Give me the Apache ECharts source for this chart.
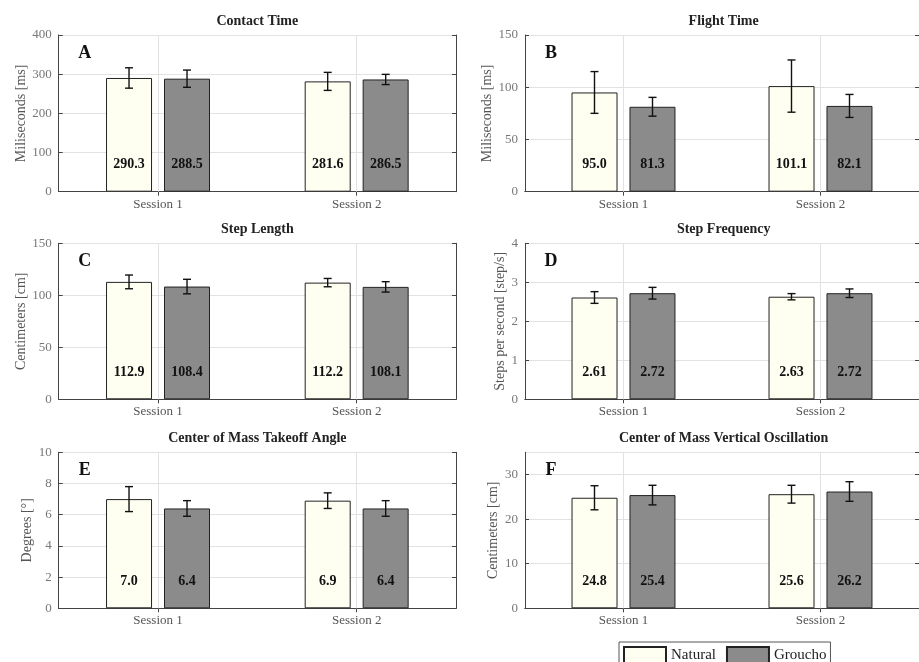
<!DOCTYPE html>
<html>
<head>
<meta charset="utf-8">
<script src="https://cdn.jsdelivr.net/npm/echarts@6/dist/echarts.min.js"></script>
<style>html,body{margin:0;padding:0;background:#fff;}#c{width:919px;height:662px;}</style>
</head>
<body>
<div id="c"></div>
<script>
// ---- data ----
const categories = ['Session 1', 'Session 2'];
const seriesNames = ['Natural', 'Groucho'];

const panelTitles = ['Contact Time', 'Flight Time', 'Step Length', 'Step Frequency', 'Center of Mass Takeoff Angle', 'Center of Mass Vertical Oscillation'];
const panelLetters = ['A', 'B', 'C', 'D', 'E', 'F'];
const yAxisNames = ['Miliseconds [ms]', 'Miliseconds [ms]', 'Centimeters [cm]', 'Steps per second [step/s]', 'Degrees [°]', 'Centimeters [cm]'];
const yMax = [400, 150, 150, 4, 10, 35];
const yInterval = [100, 50, 50, 1, 2, 10];

const contactNatural = [290.3, 281.6];
const contactGroucho = [288.5, 286.5];
const contactNaturalSD = [26, 23];
const contactGrouchoSD = [22, 13];

const flightNatural = [95.0, 101.1];
const flightGroucho = [81.3, 82.1];
const flightNaturalSD = [20, 25];
const flightGrouchoSD = [9, 11];

const stepLengthNatural = [112.9, 112.2];
const stepLengthGroucho = [108.4, 108.1];
const stepLengthNaturalSD = [6.6, 4];
const stepLengthGrouchoSD = [7, 5];

const stepFreqNatural = [2.61, 2.63];
const stepFreqGroucho = [2.72, 2.72];
const stepFreqNaturalSD = [0.15, 0.08];
const stepFreqGrouchoSD = [0.15, 0.11];

const angleNatural = [7.0, 6.9];
const angleGroucho = [6.4, 6.4];
const angleNaturalSD = [0.8, 0.5];
const angleGrouchoSD = [0.5, 0.5];

const oscNatural = [24.8, 25.6];
const oscGroucho = [25.4, 26.2];
const oscNaturalSD = [2.7, 2.0];
const oscGrouchoSD = [2.2, 2.2];

const valueLabels = [
  [['290.3', '281.6'], ['288.5', '286.5']],
  [['95.0', '101.1'], ['81.3', '82.1']],
  [['112.9', '112.2'], ['108.4', '108.1']],
  [['2.61', '2.63'], ['2.72', '2.72']],
  [['7.0', '6.9'], ['6.4', '6.4']],
  [['24.8', '25.6'], ['25.4', '26.2']]
];

const means = [
  [contactNatural, contactGroucho],
  [flightNatural, flightGroucho],
  [stepLengthNatural, stepLengthGroucho],
  [stepFreqNatural, stepFreqGroucho],
  [angleNatural, angleGroucho],
  [oscNatural, oscGroucho]
];
const sds = [
  [contactNaturalSD, contactGrouchoSD],
  [flightNaturalSD, flightGrouchoSD],
  [stepLengthNaturalSD, stepLengthGrouchoSD],
  [stepFreqNaturalSD, stepFreqGrouchoSD],
  [angleNaturalSD, angleGrouchoSD],
  [oscNaturalSD, oscGrouchoSD]
];

// ---- layout / style ----
const FONT = 'Liberation Serif';
const gridPos = [
  {left: 58.7, top: 35, width: 397.3, height: 156.7},
  {left: 525, top: 35, width: 397.3, height: 156.7},
  {left: 58.7, top: 243.3, width: 397.3, height: 156},
  {left: 525, top: 243.3, width: 397.3, height: 156},
  {left: 58.7, top: 452.3, width: 397.3, height: 156},
  {left: 525, top: 452.3, width: 397.3, height: 156}
];
const nameGaps = [30, 30, 30, 17, 24, 25];
const fills = ['#fefef1', '#8b8b8b'];
const barOffsets = [-29, 29];
const AXIS_COLOR = '#444';

const grid = [], xAxis = [], yAxis = [], series = [], graphic = [];

gridPos.forEach((g, i) => {
  grid.push(Object.assign({containLabel: false}, g));
  // bottom x
  xAxis.push({
    type: 'category', gridIndex: i, data: categories, position: 'bottom',
    axisLine: {show: true, lineStyle: {color: AXIS_COLOR, width: 1}},
    axisTick: {show: true, inside: true, alignWithLabel: true, length: 4, lineStyle: {color: AXIS_COLOR}},
    axisLabel: {color: '#555', fontFamily: FONT, fontSize: 13, margin: 6},
    splitLine: {show: false}
  });
  // top x
  xAxis.push({
    type: 'category', gridIndex: i, data: categories, position: 'top',
    axisLine: {show: true, lineStyle: {color: AXIS_COLOR, width: 1}},
    axisTick: {show: true, inside: true, alignWithLabel: true, length: 4, lineStyle: {color: AXIS_COLOR}},
    axisLabel: {show: false}, splitLine: {show: false}
  });
  // left y
  yAxis.push({
    type: 'value', gridIndex: i, min: 0, max: yMax[i], interval: yInterval[i], position: 'left',
    name: yAxisNames[i], nameLocation: 'middle', nameGap: nameGaps[i],
    nameTextStyle: {color: '#555', fontFamily: FONT, fontSize: 14},
    axisLine: {show: true, lineStyle: {color: AXIS_COLOR, width: 1}},
    axisTick: {show: true, inside: true, length: 4, lineStyle: {color: AXIS_COLOR}},
    axisLabel: {color: '#777', fontFamily: FONT, fontSize: 13, margin: 7, showMaxLabel: yMax[i] % yInterval[i] === 0},
    splitLine: {show: true, lineStyle: {color: '#e2e2e2', width: 1}}
  });
  // right y
  yAxis.push({
    type: 'value', gridIndex: i, min: 0, max: yMax[i], interval: yInterval[i], position: 'right',
    axisLine: {show: true, lineStyle: {color: AXIS_COLOR, width: 1}},
    axisTick: {show: true, inside: true, length: 4, lineStyle: {color: AXIS_COLOR}},
    axisLabel: {show: false}, splitLine: {show: false}
  });

  for (let s = 0; s < 2; s++) {
    series.push({
      type: 'bar', name: seriesNames[s], xAxisIndex: 2 * i, yAxisIndex: 2 * i,
      data: means[i][s], barWidth: 46, barGap: '26%', z: 2,
      itemStyle: {color: fills[s], borderColor: '#222', borderWidth: 1},
      label: {
        show: true, position: 'insideBottom', distance: 20,
        formatter: (p) => valueLabels[i][s][p.dataIndex],
        color: '#111', fontFamily: FONT, fontWeight: 'bold', fontSize: 14
      },
      emphasis: {disabled: true}, animation: false
    });
    const off = barOffsets[s];
    const err = {
      type: 'custom', name: 'err' + i + s, xAxisIndex: 2 * i, yAxisIndex: 2 * i, z: 5,
      data: means[i][s].map((m, k) => [k, m, sds[i][s][k]]),
      renderItem: (params, api) => {
        const k = api.value(0), m = api.value(1), sd = api.value(2);
        const top = api.coord([k, m + sd]);
        const bot = api.coord([k, m - sd]);
        const x = top[0] + off, w = 4;
        const st = {stroke: '#111', lineWidth: 1.4};
        return {type: 'group', children: [
          {type: 'line', shape: {x1: x, y1: top[1], x2: x, y2: bot[1]}, style: st},
          {type: 'line', shape: {x1: x - w, y1: top[1], x2: x + w, y2: top[1]}, style: st},
          {type: 'line', shape: {x1: x - w, y1: bot[1], x2: x + w, y2: bot[1]}, style: st}
        ]};
      },
      silent: true, animation: false
    };
    if (s === 0) {
      err.markLine = {
        silent: true, symbol: 'none', animation: false,
        lineStyle: {color: '#e2e2e2', type: 'solid', width: 1},
        label: {show: false}, emphasis: {disabled: true},
        data: categories.map(c => ({xAxis: c}))
      };
    }
    series.push(err);
  }

  graphic.push({
    type: 'text', x: g.left + g.width / 2, y: g.top - 14, z: 100,
    style: {text: panelTitles[i], fill: '#222', font: 'bold 14px "' + FONT + '"', textAlign: 'center', textVerticalAlign: 'middle'},
    silent: true
  });
  graphic.push({
    type: 'text', x: g.left + 26, y: g.top + 18, z: 100,
    style: {text: panelLetters[i], fill: '#111', font: 'bold 18px "' + FONT + '"', textAlign: 'center', textVerticalAlign: 'middle'},
    silent: true
  });
});

const chart = echarts.init(document.getElementById('c'), null, {renderer: 'canvas'});
chart.setOption({
  animation: false,
  backgroundColor: '#fff',
  grid, xAxis, yAxis, series, graphic,
  legend: {
    data: seriesNames, left: 619, top: 642, orient: 'horizontal',
    itemWidth: 42, itemHeight: 17, itemGap: 10, icon: 'rect',
    padding: [4, 4, 4, 4], borderColor: '#555', borderWidth: 1,
    textStyle: {color: '#222', fontFamily: FONT, fontSize: 15},
    selectedMode: false
  }
});
</script>
</body>
</html>
